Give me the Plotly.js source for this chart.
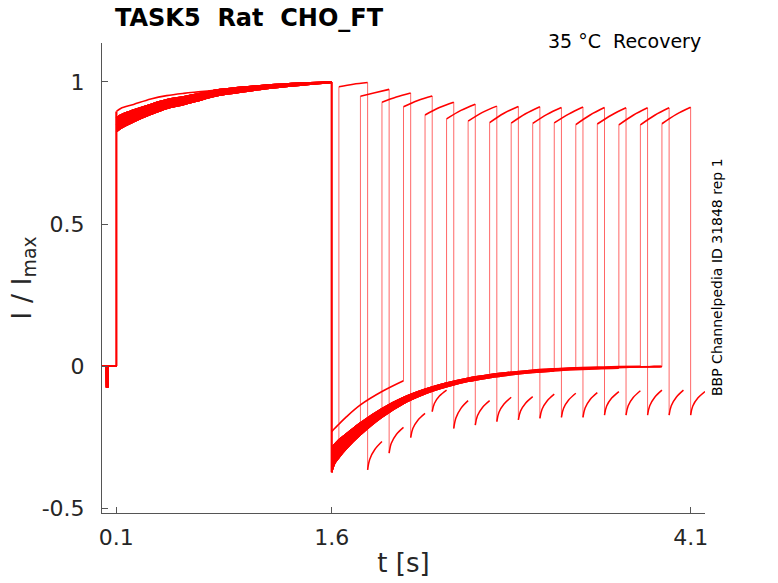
<!DOCTYPE html>
<html>
<head>
<meta charset="utf-8">
<script src="https://cdn.plot.ly/plotly-3.0.1.min.js"></script>
<style>html,body{margin:0;padding:0;background:#fff}#chart{width:778px;height:583px}</style>
</head>
<body>
<div id="chart"></div>
<script>
// ---- data ----
// holding period (t < 0.1 s)
const holdT = [0, 0.033, 0.034, 0.037, 0.038, 0.1];
const holdI = [0, 0, -0.072, -0.072, 0, 0];

// first (conditioning) pulse, 0.1 .. 1.6 s
const actT   = [0.1, 0.13, 0.22, 0.34, 0.45, 0.57, 0.69, 0.8, 0.95, 1.1, 1.3, 1.45, 1.6];
const actTop = [0.872, 0.884, 0.901, 0.921, 0.937, 0.948, 0.960, 0.972, 0.980, 0.987, 0.994, 0.997, 1.0];
const actMid = [0.848, 0.860, 0.880, 0.903, 0.922, 0.935, 0.948, 0.962, 0.972, 0.981, 0.990, 0.995, 0.999];
const actBot = [0.825, 0.837, 0.860, 0.886, 0.907, 0.921, 0.937, 0.952, 0.963, 0.974, 0.985, 0.992, 0.998];
const actOut = [0.896, 0.907, 0.921, 0.940, 0.952, 0.960, 0.966, 0.972, 0.980, 0.987, 0.994, 0.997, 1.0];

// tail current after 1.6 s
const tailT   = [1.6, 1.62, 1.65, 1.7, 1.8, 1.95, 2.1, 2.25, 2.4, 2.55, 2.7, 2.85, 3.0, 3.15, 3.3, 3.45, 3.6, 3.75, 3.9];
const tailTop = [-0.288, -0.276, -0.260, -0.240, -0.200, -0.150, -0.111, -0.082, -0.060, -0.043, -0.031, -0.022, -0.015, -0.010, -0.006, -0.004, -0.002, -0.001, 0.000];
const tailMid = [-0.325, -0.308, -0.290, -0.265, -0.220, -0.165, -0.121, -0.090, -0.066, -0.048, -0.036, -0.027, -0.019, -0.014, -0.010, -0.007, -0.005, -0.003, -0.002];
const tailBot = [-0.374, -0.343, -0.322, -0.292, -0.242, -0.180, -0.132, -0.098, -0.073, -0.054, -0.041, -0.031, -0.023, -0.017, -0.013, -0.010, -0.008, -0.006, -0.004];
const tailOut = [-0.231, -0.220, -0.205, -0.180, -0.137, -0.090, -0.052];

// test pulses (one per sweep)
const pulseStartT = [1.65, 1.80, 1.95, 2.10, 2.25, 2.40, 2.55, 2.70, 2.85, 3.00, 3.15, 3.30, 3.45, 3.60, 3.75, 3.90];
const pulseOffsets = [0, 0.1, 0.2];
const pulseStartI = [0.983, 0.950, 0.929, 0.913, 0.884, 0.870, 0.862, 0.857, 0.855, 0.854, 0.856, 0.850, 0.852, 0.849, 0.849, 0.853];
const pulseMidI   = [0.992, 0.962, 0.947, 0.935, 0.910, 0.900, 0.893, 0.890, 0.888, 0.886, 0.887, 0.884, 0.884, 0.883, 0.883, 0.886];
const pulseEndI   = [0.998, 0.974, 0.961, 0.951, 0.929, 0.922, 0.915, 0.914, 0.913, 0.910, 0.912, 0.910, 0.909, 0.909, 0.909, 0.911];

// tail after each test pulse
const hookOffsets = [0, 0.015, 0.05, 0.1];
const hookMinI   = [-0.366, -0.307, -0.252, -0.161, -0.220, -0.208, -0.196, -0.190, -0.184, -0.181, -0.181, -0.173, -0.173, -0.173, -0.173, -0.173];
const hookEarlyI = [-0.328, -0.272, -0.220, -0.132, -0.183, -0.175, -0.163, -0.159, -0.152, -0.149, -0.148, -0.141, -0.140, -0.140, -0.140, -0.141];
const hookMidI   = [-0.294, -0.241, -0.191, -0.106, -0.149, -0.146, -0.134, -0.131, -0.123, -0.120, -0.118, -0.113, -0.111, -0.110, -0.110, -0.113];
const hookEndI   = [-0.266, -0.216, -0.167, -0.085, -0.122, -0.122, -0.110, -0.108, -0.099, -0.096, -0.094, -0.090, -0.087, -0.085, -0.085, -0.090];

// which envelope each sweep follows: 0 top, 1 mid, 2 bottom, 3 outlier
const sweepGroup = [2, 0, 1, 3, 2, 0, 1, 2, 0, 1, 2, 0, 1, 2, 0, 1];

const xTickVals = [0.1, 1.6, 4.1];
const xTickText = ['0.1', '1.6', '4.1'];
const yTickVals = [-0.5, 0, 0.5, 1];
const yTickText = ['-0.5', '0', '0.5', '1'];

// ---- build traces ----
const red = '#ff0000';
const FONT = 'DejaVu Sans, Verdana, sans-serif';
const traces = [];
const actCurves = [actTop, actMid, actBot, actOut];
const tailCurves = [tailTop, tailMid, tailBot, tailOut];
const base = {type: 'scatter', mode: 'lines', hoverinfo: 'skip', showlegend: false};

// dense bundles of overlapping sweeps
traces.push(Object.assign({}, base, {
  x: actT.concat(actT.slice().reverse()),
  y: actTop.concat(actBot.slice().reverse()),
  fill: 'toself', fillcolor: red, line: {width: 0, shape: 'spline'}
}));
traces.push(Object.assign({}, base, {
  x: tailT.concat(tailT.slice().reverse()),
  y: tailTop.concat(tailBot.slice().reverse()),
  fill: 'toself', fillcolor: red, line: {width: 0, shape: 'spline'}
}));

const cx = [], cy = [];
for (let i = 0; i < pulseStartT.length; i++) {
  const g = sweepGroup[i];
  const s = pulseStartT[i];
  const e = s + pulseOffsets[pulseOffsets.length - 1];
  traces.push(Object.assign({}, base, {x: holdT, y: holdI, line: {color: red, width: 2}}));
  traces.push(Object.assign({}, base, {x: actT, y: actCurves[g], line: {color: red, width: 1.6, shape: 'spline'}}));
  const n = tailT.findIndex(t => Math.abs(t - s) < 1e-9);
  traces.push(Object.assign({}, base, {x: tailT.slice(0, n + 1), y: tailCurves[g].slice(0, n + 1), line: {color: red, width: 1.6, shape: 'spline'}}));
  traces.push(Object.assign({}, base, {
    x: pulseOffsets.map(o => s + o),
    y: [pulseStartI[i], pulseMidI[i], pulseEndI[i]],
    line: {color: red, width: 1.6, shape: 'spline'}
  }));
  traces.push(Object.assign({}, base, {
    x: hookOffsets.map(o => e + o),
    y: [hookMinI[i], hookEarlyI[i], hookMidI[i], hookEndI[i]],
    line: {color: red, width: 1.5, shape: 'spline'}
  }));
  cx.push(s, s, null, e, e, null);
  cy.push(tailCurves[g][n], pulseStartI[i], null, pulseEndI[i], hookMinI[i], null);
}
traces.push(Object.assign({}, base, {x: cx, y: cy, line: {color: 'rgba(255,0,0,0.6)', width: 1}}));
traces.push(Object.assign({}, base, {
  x: [actT[0], actT[0], null, tailT[0], tailT[0]],
  y: [holdI[holdI.length - 1], actOut[0], null, actTop[actTop.length - 1], tailBot[0]],
  line: {color: red, width: 2.2}
}));

const axisCol = '#555555';
const layout = {
  width: 778, height: 583,
  margin: {l: 102, r: 73, t: 43, b: 70},
  paper_bgcolor: '#fff', plot_bgcolor: '#fff',
  font: {family: FONT, color: '#262626'},
  title: {
    text: '<b>TASK5\u00a0\u00a0Rat\u00a0\u00a0CHO_FT</b>',
    font: {family: FONT, size: 24, color: '#000'},
    x: 115 / 778, xanchor: 'left', xref: 'container',
    y: 1 - 18 / 583, yanchor: 'middle', yref: 'container'
  },
  xaxis: {
    range: [0, 4.2], tickvals: xTickVals, ticktext: xTickText,
    ticks: 'inside', ticklen: 6, tickcolor: axisCol, tickwidth: 1,
    showline: true, linecolor: axisCol, linewidth: 1,
    showgrid: false, zeroline: false,
    tickfont: {family: FONT, size: 22, color: '#262626'},
    ticklabelstandoff: 5,
    title: {text: 't [s]', font: {family: FONT, size: 26, color: '#262626'}, standoff: 4}
  },
  yaxis: {
    range: [-0.5176, 1.1373], tickvals: yTickVals, ticktext: yTickText,
    ticks: 'inside', ticklen: 6, tickcolor: axisCol, tickwidth: 1,
    showline: true, linecolor: axisCol, linewidth: 1,
    showgrid: false, zeroline: false,
    tickfont: {family: FONT, size: 22, color: '#262626'},
    ticklabelstandoff: 12,
    title: {text: 'I / I<sub>max</sub>', font: {family: FONT, size: 27, color: '#262626'}, standoff: 2}
  },
  annotations: [
    {text: '35 °C\u00a0\u00a0Recovery', xref: 'paper', yref: 'paper',
     x: (703 - 102) / 603, y: (513 - 41) / 470, xanchor: 'right', yanchor: 'middle',
     showarrow: false, font: {family: FONT, size: 19, color: '#000'}},
    {text: 'BBP Channelpedia ID 31848 rep 1', xref: 'paper', yref: 'paper',
     x: (717 - 102) / 603, y: (513 - 277) / 470, xanchor: 'center', yanchor: 'middle',
     textangle: -90, showarrow: false, font: {family: FONT, size: 14, color: '#000'}}
  ]
};

Plotly.newPlot('chart', traces, layout, {staticPlot: true, displayModeBar: false});
</script>
</body>
</html>
